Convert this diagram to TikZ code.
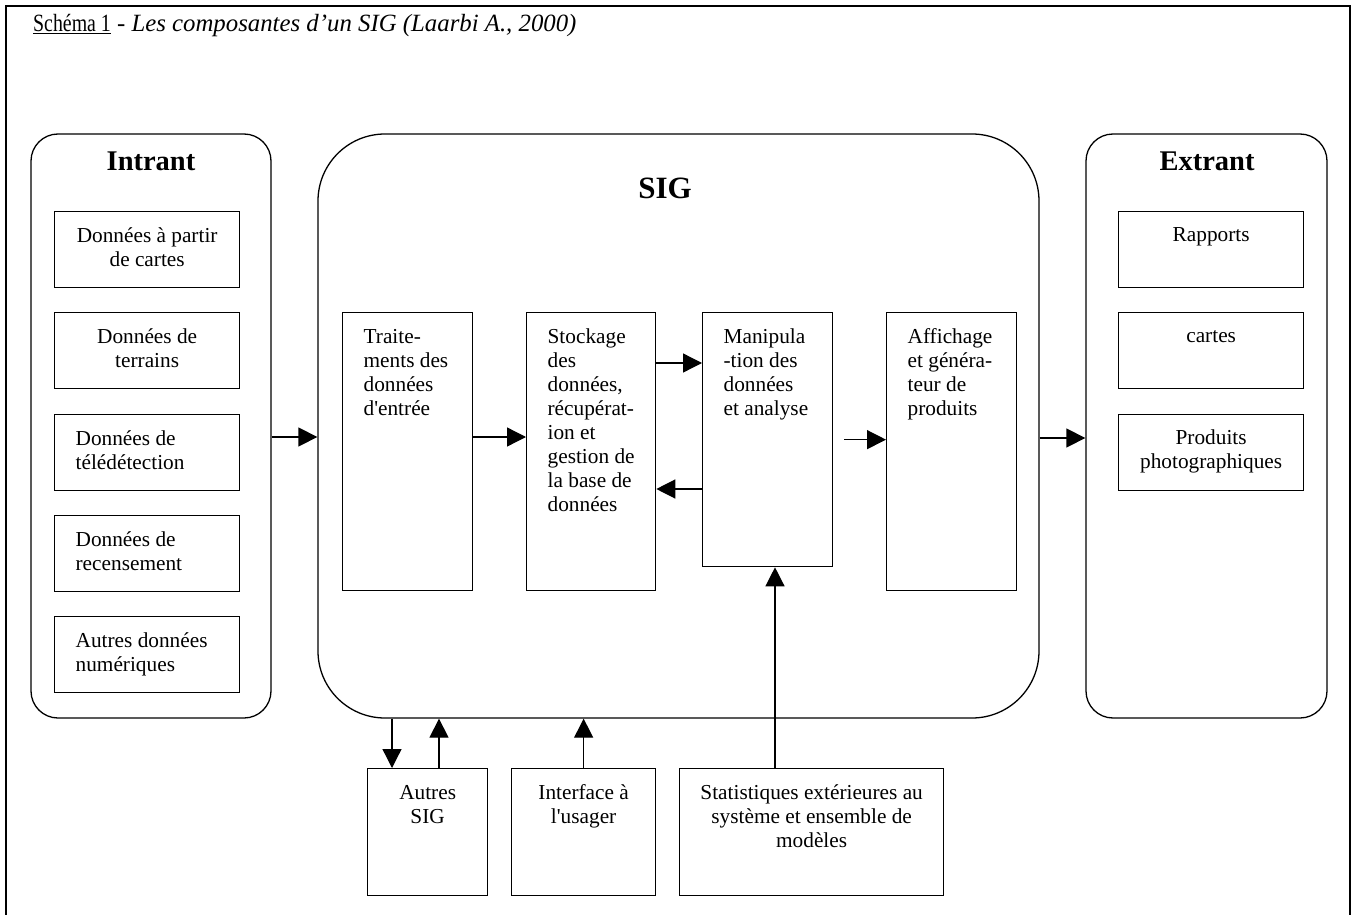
\documentclass[tikz,border=0pt]{standalone}
\usepackage{fontspec}
\setmainfont{Liberation Serif}
\usetikzlibrary{arrows.meta,calc}
\newcommand{\bxt}[5]{\parbox[c][#2pt][t]{#1pt}{#3\rule{0pt}{#4pt}#5}}
\begin{document}
\begin{tikzpicture}[x=1pt,y=-1pt,
  frame/.style={line width=1.6pt},
  group/.style={draw, line width=1.3pt, inner sep=0pt},
  box/.style={draw, line width=1.3pt, inner sep=0pt, anchor=north west},
  txt/.style={font=\fontsize{21.3}{24}\selectfont},
  head/.style={font=\fontsize{28.5}{30}\selectfont\bfseries, anchor=base, inner sep=0pt},
  arr/.style={line width=1.3pt, -{Triangle[length=19pt,width=19pt]}},
]
\useasboundingbox (0,0) rectangle (1353,915);
\draw[frame] (6,925) -- (6,6) -- (1350,6) -- (1350,925);

\node[anchor=base west, inner sep=0pt, font=\fontsize{24.8}{27}\selectfont] (title) at (33,32)
  {{\addfontfeature{FakeStretch=0.8}\underline{Schéma 1}} - \textit{Les composantes d’un SIG (Laarbi A., 2000)}};

% groups
\node[group, rounded corners=27pt, minimum width=240pt, minimum height=584pt] (intrant) at (151,426) {};
\node[group, rounded corners=67pt, minimum width=721pt, minimum height=584pt] (sig) at (678.5,426) {};
\node[group, rounded corners=27pt, minimum width=241pt, minimum height=584pt] (extrant) at (1206.5,426) {};
\node[head] (intrantlbl) at (151,171) {Intrant};
\node[head, font=\fontsize{31}{32}\selectfont\bfseries] (siglbl) at (665,199) {SIG};
\node[head] (extrantlbl) at (1207,171) {Extrant};

% intrant boxes
\node[box, txt] (i1) at (54,211) {\bxt{185}{76}{\centering}{31}{Données à partir\\de cartes}};
\node[box, txt] (i2) at (54,312) {\bxt{185}{76}{\centering}{31}{Données de\\terrains}};
\node[box, txt, inner xsep=21pt] (i3) at (54,414) {\bxt{143}{76}{\raggedright}{31}{Données de\\télédétection}};
\node[box, txt, inner xsep=21pt] (i4) at (54,515) {\bxt{143}{76}{\raggedright}{31}{Données de\\recensement}};
\node[box, txt, inner xsep=21pt] (i5) at (54,616) {\bxt{143}{76}{\raggedright}{31}{Autres données\\numériques}};

% extrant boxes
\node[box, txt] (e1) at (1118,211) {\bxt{185}{76}{\centering}{30}{Rapports}};
\node[box, txt] (e2) at (1118,312) {\bxt{185}{76}{\centering}{30}{cartes}};
\node[box, txt] (e3) at (1118,414) {\bxt{185}{76}{\centering}{30}{Produits\\photographiques}};

% SIG inner boxes
\node[box, txt, inner xsep=21pt] (trait) at (342,312) {\bxt{88}{278}{\raggedright}{31}{Traite-\\ments des\\données\\d\textquotesingle entrée}};
\node[box, txt, inner xsep=21pt] (stock) at (526,312) {\bxt{87}{278}{\raggedright}{31}{Stockage\\des\\données,\\récupérat-\\ion et\\gestion de\\la base de\\données}};
\node[box, txt, inner xsep=21pt] (manip) at (702,312) {\bxt{88}{254}{\raggedright}{31}{Manipula\\-tion des\\données\\et analyse}};
\node[box, txt, inner xsep=21pt] (affich) at (886,312) {\bxt{88}{278}{\raggedright}{31}{Affichage\\et généra-\\teur de\\produits}};

% bottom boxes
\node[box, txt] (autres) at (367,768) {\bxt{120}{127}{\centering}{31}{Autres\\SIG}};
\node[box, txt] (interf) at (511,768) {\bxt{144}{127}{\centering}{31}{Interface à\\l\textquotesingle usager}};
\node[box, txt] (stat) at (679,768) {\bxt{264}{127}{\centering}{31}{Statistiques extérieures au\\système et ensemble de\\modèles}};

% helper coordinates
\coordinate (yA) at (0,437);
\coordinate (yB) at (0,437);
\coordinate (yC) at (0,363);
\coordinate (yD) at (0,489);
\coordinate (yE) at (0,438);
\coordinate (xA) at (392,0);
\coordinate (xB) at (439,0);
\coordinate (xC) at (775,0);

% connectors
\draw[arr] (intrant.east |- yA) -- (sig.west |- yA);
\draw[arr] (trait.east |- yB) -- (stock.west |- yB);
\draw[arr] (stock.east |- yC) -- (manip.west |- yC);
\draw[arr] (manip.west |- yD) -- (stock.east |- yD);
\draw[arr] ([xshift=11pt]manip.east) -- (manip.east -| affich.west);
\draw[arr] (sig.east |- yE) -- (extrant.west |- yE);
\draw[arr] (sig.south -| xA) -- (autres.north -| xA);
\draw[arr] (autres.north -| xB) -- (sig.south -| xB);
\draw[arr] (interf.north) -- (sig.south -| interf.north);
\draw[arr] (stat.north -| xC) -- (manip.south -| xC);
\end{tikzpicture}
\end{document}
